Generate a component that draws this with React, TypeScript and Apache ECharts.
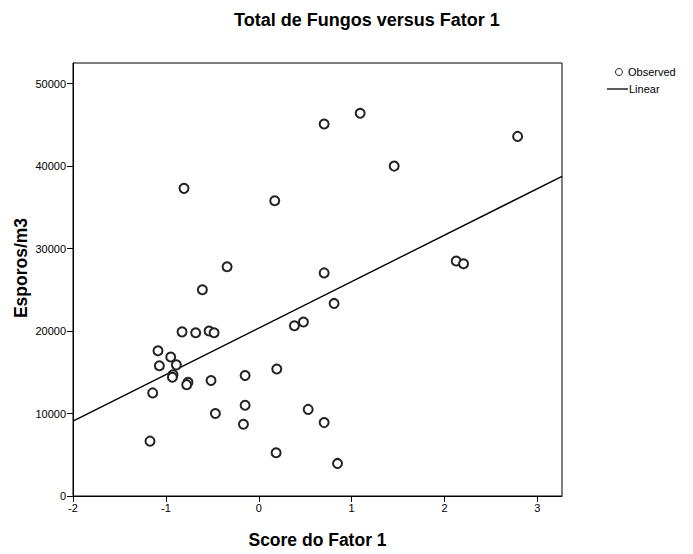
import React, { useEffect, useRef } from "react";
import * as echarts from "echarts";

// Factor 1 score for each sample, with its total fungal spore count (spores/m3)
const scoreFator1 = [
  -0.805, 0.172, 0.704, 1.092, 1.458, 2.787, -0.341, -0.607, -0.826, -0.679,
  -0.535, -0.481, -1.085, -0.948, -1.07, -0.887, -0.923, -0.93, -0.762, -0.776,
  -0.514, -0.147, 0.194, -1.142, -0.147, -0.467, -0.165, 0.532, -1.171, 0.187,
  0.384, 0.481, 0.704, 0.811, 2.126, 2.205, 0.704, 0.848,
];
const esporosM3 = [
  37300, 35800, 45100, 46400, 40000, 43600, 27800, 25000, 19900, 19800,
  20000, 19800, 17600, 16850, 15800, 15900, 14700, 14400, 13800, 13500,
  14000, 14600, 15400, 12500, 11000, 10000, 8700, 10500, 6650, 5250,
  20650, 21100, 27050, 23350, 28500, 28150, 8900, 3950,
];

const xTicks = [-2, -1, 0, 1, 2, 3];
const yTicks = [0, 10000, 20000, 30000, 40000, 50000];
const xRange = [-2, 3.265];
const yRange = [0, 52500];

const titleText = "Total de Fungos versus Fator 1";
const xAxisName = "Score do Fator 1";
const yAxisName = "Esporos/m3";
const observedName = "Observed";
const linearName = "Linear";

// Ordinary least-squares fit y = a + b x
function linearFit(xs: number[], ys: number[]) {
  const n = xs.length;
  const mx = xs.reduce((s, v) => s + v, 0) / n;
  const my = ys.reduce((s, v) => s + v, 0) / n;
  let sxy = 0;
  let sxx = 0;
  for (let i = 0; i < n; i++) {
    sxy += (xs[i] - mx) * (ys[i] - my);
    sxx += (xs[i] - mx) * (xs[i] - mx);
  }
  const b = sxy / sxx;
  return { a: my - b * mx, b };
}

const FONT = "'Liberation Sans', Arial, sans-serif";
const INK = "#000";

export default function App() {
  const ref = useRef<HTMLDivElement>(null);

  useEffect(() => {
    if (!ref.current) return;
    const chart = echarts.init(ref.current, undefined, { renderer: "svg" });

    const points = scoreFator1.map((x, i) => [x, esporosM3[i]]);
    const { a, b } = linearFit(scoreFator1, esporosM3);
    const fitLine = xRange.map((x) => [x, a + b * x]);

    chart.setOption({
      animation: false,
      backgroundColor: "#fff",
      textStyle: { fontFamily: FONT },
      title: {
        text: titleText,
        left: 229,
        top: 6,
        textStyle: { fontFamily: FONT, fontSize: 18, fontWeight: "bold", color: INK },
      },
      grid: {
        left: 73,
        right: 131,
        top: 63,
        bottom: 57,
        show: true,
        borderColor: INK,
        borderWidth: 1,
        containLabel: false,
      },
      xAxis: {
        type: "value",
        min: xRange[0],
        max: xRange[1],
        interval: 1,
        name: xAxisName,
        nameLocation: "middle",
        nameGap: 35,
        nameTextStyle: { fontFamily: FONT, fontSize: 17.5, fontWeight: "bold", color: INK },
        axisLine: { onZero: false, lineStyle: { color: INK, width: 1 } },
        axisTick: { show: true, length: 6, customValues: xTicks, lineStyle: { color: INK } },
        axisLabel: {
          customValues: xTicks,
          formatter: (v: number) => String(v),
          fontFamily: FONT,
          fontSize: 11,
          color: INK,
          margin: 6,
        },
        splitLine: { show: false },
      },
      yAxis: {
        type: "value",
        min: yRange[0],
        max: yRange[1],
        interval: 10000,
        axisLine: { onZero: false, lineStyle: { color: INK, width: 1 } },
        axisTick: { show: true, length: 6, customValues: yTicks, lineStyle: { color: INK } },
        axisLabel: {
          customValues: yTicks,
          formatter: (v: number) => String(v),
          fontFamily: FONT,
          fontSize: 11,
          color: INK,
          margin: 7,
        },
        splitLine: { show: false },
      },
      graphic: [
        {
          type: "text",
          x: 21,
          y: 268,
          rotation: Math.PI / 2,
          style: {
            text: yAxisName,
            font: `bold 17.5px ${FONT}`,
            fill: INK,
            align: "center",
            verticalAlign: "middle",
          },
        },
        // legend: observed marker and fitted line
        {
          type: "circle",
          shape: { cx: 619, cy: 72, r: 3.5 },
          style: { fill: "#fff", stroke: "#222", lineWidth: 1 },
        },
        {
          type: "text",
          x: 628,
          y: 72,
          style: { text: observedName, font: `11px ${FONT}`, fill: INK, verticalAlign: "middle" },
        },
        {
          type: "line",
          shape: { x1: 607, y1: 89, x2: 628, y2: 89 },
          style: { stroke: INK, lineWidth: 1.3 },
        },
        {
          type: "text",
          x: 629,
          y: 89,
          style: { text: linearName, font: `11px ${FONT}`, fill: INK, verticalAlign: "middle" },
        },
      ],
      series: [
        {
          name: observedName,
          type: "scatter",
          data: points,
          symbol: "emptyCircle",
          symbolSize: 9,
          itemStyle: { color: "#222", borderColor: "#222", borderWidth: 1, opacity: 1 },
          z: 3,
        },
        {
          name: linearName,
          type: "line",
          data: fitLine,
          symbol: "none",
          lineStyle: { color: INK, width: 1.4 },
          z: 2,
        },
      ],
    });

    return () => chart.dispose();
  }, []);

  return (
    <div
      ref={ref}
      style={{ position: "fixed", left: 0, top: 0, width: 693, height: 554 }}
    />
  );
}
